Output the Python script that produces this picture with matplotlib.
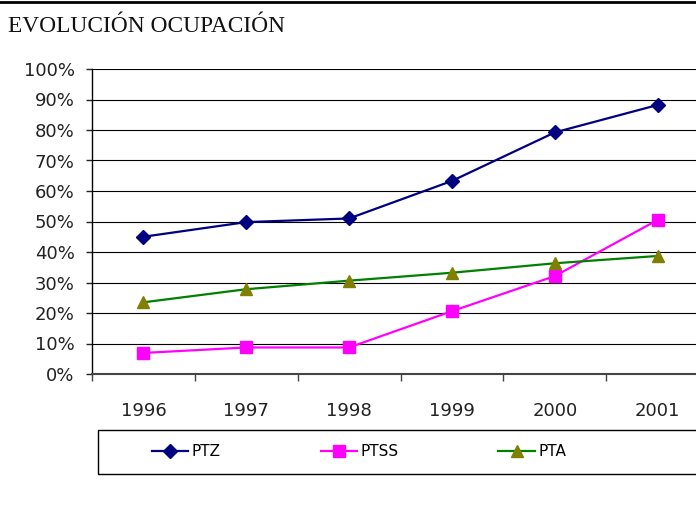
import matplotlib
matplotlib.use("Agg")
import matplotlib.pyplot as plt
from matplotlib.lines import Line2D
from matplotlib.patches import Rectangle
from matplotlib.ticker import FixedLocator, PercentFormatter

years = ["1996", "1997", "1998", "1999", "2000", "2001"]
ptz = [45.0, 49.8, 51.0, 63.3, 79.2, 88.2]
ptss = [6.9, 8.7, 8.7, 20.6, 32.1, 50.5]
pta = [23.5, 27.8, 30.6, 33.2, 36.3, 38.7]

W, H = 696, 517
fig = plt.figure(figsize=(W / 100, H / 100), dpi=100)

# plot area in pixels: x 92..709 (runs off the right edge), y 69..374
ax = fig.add_axes([92 / W, (H - 374) / H, 617 / W, 305 / H])

x = list(range(len(years)))
ax.plot(x, ptz, color="#000080", lw=1.6, marker="D", ms=7,
        mfc="#000080", mec="#000080", label="PTZ", zorder=3)
ax.plot(x, ptss, color="#FF00FF", lw=1.6, marker="s", ms=8,
        mfc="#FF00FF", mec="#FF00FF", label="PTSS", zorder=3)
ax.plot(x, pta, color="#008000", lw=1.6, marker="^", ms=8,
        mfc="#808000", mec="#808000", label="PTA", zorder=3)

ax.set_xlim(-0.5, len(years) - 0.5)
ax.set_ylim(0, 100)
ax.set_yticks(range(0, 101, 10))
ax.yaxis.set_major_formatter(PercentFormatter(decimals=0))
ax.grid(axis="y", color="black", lw=0.8)
ax.set_axisbelow(True)

ax.set_xticks(x)
ax.set_xticklabels(years)
ax.xaxis.set_minor_locator(FixedLocator([i - 0.5 for i in range(len(years) + 1)]))
ax.tick_params(axis="x", which="major", length=0, pad=20, labelsize=13, colors="#222222")
ax.tick_params(axis="x", which="minor", length=5, width=1, color="#444444")
ax.tick_params(axis="y", length=4.5, width=1, pad=8, labelsize=13,
               colors="#222222")

for side in ("top", "right"):
    ax.spines[side].set_visible(False)
ax.spines["left"].set_color("black")
ax.spines["left"].set_linewidth(1.0)
ax.spines["bottom"].set_color("#444444")
ax.spines["bottom"].set_linewidth(1.5)

# top rule and title
fig.add_artist(Line2D([0, 1], [1 - 1.5 / H, 1 - 1.5 / H], color="black", lw=2))
fig.text(8 / W, 1 - 26 / H, "EVOLUCIÓN OCUPACIÓN", family="Liberation Serif",
         fontsize=16.8, va="center", ha="left", color="#111111")

# legend frame and entries
fig.add_artist(Rectangle((98 / W, (H - 474) / H), 640 / W, 44 / H,
                         transform=fig.transFigure, fill=False,
                         edgecolor="black", lw=1))
fig.legend(loc="center left", bbox_to_anchor=(138 / W, (H - 452) / H),
           ncol=3, frameon=False, fontsize=11, handlelength=2.4,
           handletextpad=0.2, columnspacing=6.55)

fig.savefig("out.png", dpi=100)
